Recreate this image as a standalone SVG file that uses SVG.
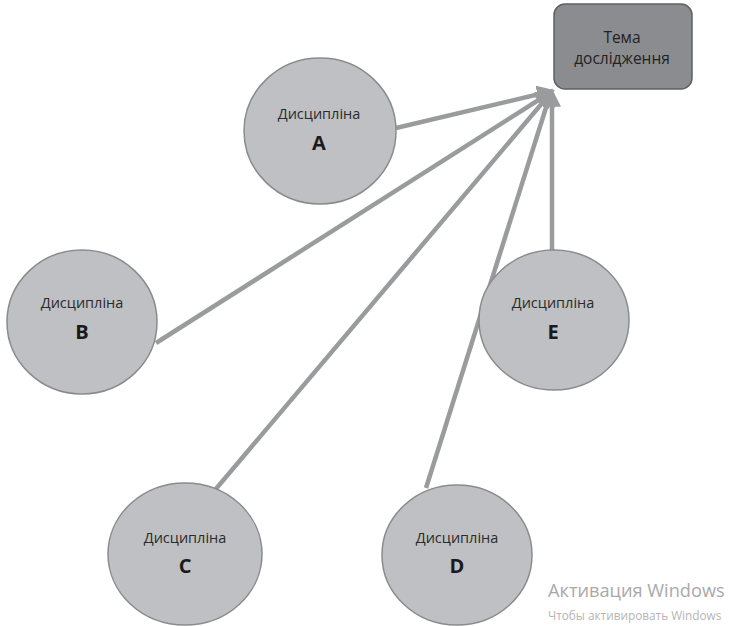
<svg xmlns="http://www.w3.org/2000/svg" width="729" height="626" viewBox="0 0 729 626">
  <style>
    .disc { fill: #bfc0c3; stroke: #8a8b8d; stroke-width: 1.5; }
    .topic { fill: #8b8c8f; stroke: #5f6062; stroke-width: 1.5; }
    .lbl { font-family: "Open Sans", "Noto Sans", sans-serif; font-size: 14.5px; fill: #2a2a2a; text-anchor: middle; }
    .ltr { font-family: "Open Sans", "Noto Sans", sans-serif; font-size: 20px; font-weight: bold; fill: #1a1a1a; text-anchor: middle; }
    .ttl { font-family: "Open Sans", "Noto Sans", sans-serif; font-size: 15.5px; fill: #222; text-anchor: middle; }
    .link { stroke: #9a9b9d; stroke-width: 4.5; fill: none; marker-end: url(#head); }
    .wm1 { font-family: "Open Sans", "Noto Sans", sans-serif; font-size: 18.2px; fill: #a9a9a9; }
    .wm2 { font-family: "Open Sans", "Noto Sans", sans-serif; font-size: 11.8px; fill: #b5b5b5; }
  </style>
  <defs>
    <marker id="head" viewBox="0 0 10 10" refX="6" refY="5" markerWidth="4" markerHeight="4" orient="auto" markerUnits="strokeWidth">
      <path d="M0,0 L10,5 L0,10 z" fill="#9a9b9d"/>
    </marker>
  </defs>

  <!-- connectors: every discipline points to the research topic -->
  <g id="connectors">
    <line class="link" x1="396" y1="128" x2="548" y2="92"/>
    <line class="link" x1="156" y1="343" x2="548" y2="94"/>
    <line class="link" x1="215" y1="490" x2="549" y2="95"/>
    <line class="link" x1="426" y1="488" x2="550" y2="95"/>
    <line class="link" x1="552" y1="250" x2="552" y2="96"/>
  </g>

  <g id="topic">
    <rect class="topic" x="554" y="4" width="138" height="85" rx="11"/>
    <text class="ttl" x="622" y="43">Тема</text>
    <text class="ttl" x="622" y="64">дослідження</text>
  </g>

  <g id="disc-a">
    <ellipse class="disc" cx="320" cy="131" rx="76" ry="73"/>
    <text class="lbl" x="319" y="119">Дисципліна</text>
    <text class="ltr" x="319" y="150">A</text>
  </g>

  <g id="disc-b">
    <ellipse class="disc" cx="82" cy="322" rx="75" ry="72"/>
    <text class="lbl" x="82" y="308">Дисципліна</text>
    <text class="ltr" x="82" y="339">B</text>
  </g>

  <g id="disc-e">
    <ellipse class="disc" cx="554" cy="320" rx="75" ry="70"/>
    <text class="lbl" x="553" y="308">Дисципліна</text>
    <text class="ltr" x="553" y="339">E</text>
  </g>

  <g id="disc-c">
    <ellipse class="disc" cx="185" cy="554" rx="77" ry="71"/>
    <text class="lbl" x="185" y="543">Дисципліна</text>
    <text class="ltr" x="185" y="573">C</text>
  </g>

  <g id="disc-d">
    <ellipse class="disc" cx="457" cy="555" rx="75" ry="70"/>
    <text class="lbl" x="457" y="543">Дисципліна</text>
    <text class="ltr" x="457" y="573">D</text>
  </g>

  <!-- system watermark -->
  <text class="wm1" x="548" y="597">Активация Windows</text>
  <text class="wm2" x="548" y="620">Чтобы активировать Windows</text>
</svg>
